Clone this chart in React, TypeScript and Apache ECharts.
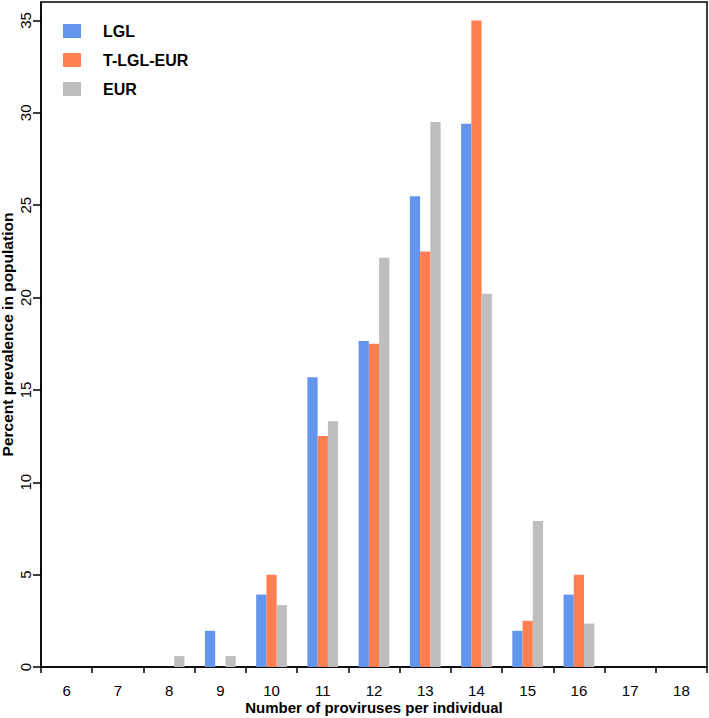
import React, { useEffect, useRef } from "react";
import * as echarts from "echarts";

const categories = ["6", "7", "8", "9", "10", "11", "12", "13", "14", "15", "16", "17", "18"];
const lglValues = [0, 0, 0, 1.96, 3.92, 15.69, 17.65, 25.49, 29.41, 1.96, 3.92, 0, 0];
const tlglEurValues = [0, 0, 0, 0, 5.0, 12.5, 17.5, 22.5, 35.0, 2.5, 5.0, 0, 0];
const eurValues = [0, 0, 0.59, 0.59, 3.35, 13.3, 22.15, 29.5, 20.2, 7.9, 2.35, 0, 0];
const yMax = 36;
const yInterval = 5;
const seriesNames = ["LGL", "T-LGL-EUR", "EUR"];
const seriesColors = ["#6495ED", "#FF7F50", "#BEBEBE"];

const FONT = "'Liberation Sans', Arial, Helvetica, sans-serif";

export default function App() {
  const ref = useRef<HTMLDivElement>(null);
  useEffect(() => {
    if (!ref.current) return;
    const chart = echarts.init(ref.current, undefined, { renderer: "svg" });
    const values = [lglValues, tlglEurValues, eurValues];
    chart.setOption({
      animation: false,
      backgroundColor: "#ffffff",
      textStyle: { fontFamily: FONT },
      grid: {
        left: 41,
        right: 2,
        top: 2,
        bottom: 51,
        containLabel: false,
        outerBoundsMode: "none",
        show: true,
        borderColor: "#000",
        borderWidth: 1.5,
        backgroundColor: "transparent",
      },
      legend: {
        orient: "vertical",
        left: 63,
        top: 23,
        padding: 0,
        itemWidth: 18,
        itemHeight: 14,
        itemGap: 13,
        icon: "rect",
        data: seriesNames,
        textStyle: {
          fontFamily: FONT,
          fontWeight: "bold",
          fontSize: 16,
          color: "#000",
          padding: [0, 0, 0, 17],
        },
      },
      xAxis: {
        type: "category",
        data: categories,
        name: "Number of proviruses per individual",
        nameLocation: "middle",
        nameGap: 33,
        nameMoveOverlap: false,
        nameTextStyle: { fontFamily: FONT, fontWeight: "bold", fontSize: 15, color: "#000" },
        axisLine: { show: true, lineStyle: { color: "#000", width: 1.5 } },
        axisTick: { show: true, length: 6, lineStyle: { color: "#000", width: 1.5 } },
        axisLabel: { fontFamily: FONT, fontSize: 15, color: "#000", margin: 16 },
        splitLine: { show: false },
      },
      yAxis: {
        type: "value",
        min: 0,
        max: yMax,
        interval: yInterval,
        name: "Percent prevalence in population",
        nameLocation: "middle",
        nameRotate: 90,
        nameGap: 26,
        nameMoveOverlap: false,
        nameTextStyle: { fontFamily: FONT, fontWeight: "bold", fontSize: 15.5, color: "#000" },
        axisLine: { show: true, lineStyle: { color: "#000", width: 1.5 } },
        axisTick: { show: true, length: 8, lineStyle: { color: "#000", width: 1.5 } },
        axisLabel: {
          fontFamily: FONT,
          fontSize: 15,
          color: "#000",
          rotate: 90,
          margin: 8,
          showMaxLabel: false,
        },
        splitLine: { show: false },
      },
      series: seriesNames.map((name, i) => ({
        name,
        type: "bar",
        data: values[i],
        barGap: "0%",
        barCategoryGap: "40%",
        itemStyle: { color: seriesColors[i] },
      })),
    });
    return () => chart.dispose();
  }, []);
  return (
    <div
      ref={ref}
      style={{ position: "absolute", left: 0, top: 0, width: 709, height: 718 }}
    />
  );
}
